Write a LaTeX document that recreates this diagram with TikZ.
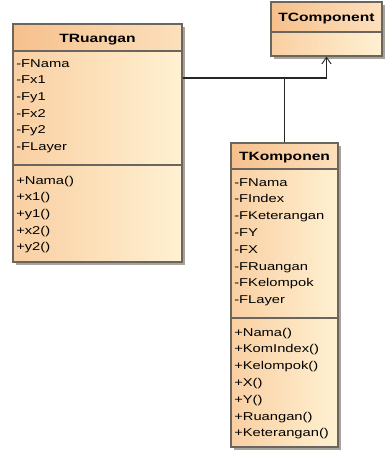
\documentclass[tikz,border=0pt]{standalone}
\usepackage{fontspec}
\setmainfont{Liberation Sans}[FakeStretch=1.3]
\usetikzlibrary{fit,arrows.meta,shadows}

\definecolor{bodyL}{HTML}{F9CFA2}
\definecolor{bodyR}{HTML}{FFF1D2}
\definecolor{headL}{HTML}{F6C08C}
\definecolor{headR}{HTML}{FCE0BD}
\definecolor{edge}{HTML}{6A655F}
\definecolor{shade}{HTML}{A8A29C}

\tikzset{
  classbox/.style={draw=edge, line width=0.8pt, inner sep=0pt, rectangle,
    left color=bodyL, right color=bodyR,
    drop shadow={shadow xshift=2pt, shadow yshift=-2pt, fill=shade, opacity=1}},
  headbox/.style={draw=edge, line width=0.8pt, inner sep=0pt, rectangle,
    left color=headL, right color=headR},
  sep/.style={draw=edge, line width=0.8pt},
  title/.style={font=\fontsize{9}{11}\selectfont\bfseries, inner sep=0pt, anchor=base},
  member/.style={font=\fontsize{8.5}{10}\selectfont, inner sep=0pt, anchor=base west},
  link/.style={draw=black!85, line width=0.8pt},
  gen/.style={link, -{Straight Barb[length=5pt, width=7pt, line width=0.7pt]}},
}

\begin{document}
\begin{tikzpicture}[x=0.75pt, y=-0.75pt]
\useasboundingbox (0,0) rectangle (388,455);

% ---- TRuangan ----
\node[classbox, fit={(13,24) (182,262)}] (rk) {};
\node[headbox, fit={(13,24) (182,51)}] (rkh) {};
\node[title] (rkt) at (97.5,42) {TRuangan};
\draw[sep] (13,165) -- (182,165);
\foreach [count=\i] \t in {-FNama,-Fx1,-Fy1,-Fx2,-Fy2,-FLayer}
  \node[member] (rka\i) at (16,{67+16.7*(\i-1)}) {\t};
\foreach [count=\i] \t in {+Nama(),+x1(),+y1(),+x2(),+y2()}
  \node[member] (rkm\i) at (16,{184+16.7*(\i-1)}) {\t};

% ---- TComponent ----
\node[classbox, fit={(271,2) (382,56)}] (tc) {};
\node[headbox, fit={(271,2) (382,32)}] (tch) {};
\node[title] (tct) at (326.5,21) {TComponent};

% ---- TKomponen ----
\node[classbox, fit={(231,143) (338,447)}] (tk) {};
\node[headbox, fit={(231,143) (338,169)}] (tkh) {};
\node[title] (tkt) at (284.5,160) {TKomponen};
\draw[sep] (231,318) -- (338,318);
\foreach [count=\i] \t in {-FNama,-FIndex,-FKeterangan,-FY,-FX,-FRuangan,-FKelompok,-FLayer}
  \node[member] (tka\i) at (234,{186+16.8*(\i-1)}) {\t};
\foreach [count=\i] \t in {+Nama(),+KomIndex(),+Kelompok(),+X(),+Y(),+Ruangan(),+Keterangan()}
  \node[member] (tkm\i) at (234,{336+16.8*(\i-1)}) {\t};

% ---- generalisation: both classes derive from TComponent ----
\coordinate (j) at (284.5,78);
\draw[gen] (rk.east |- j) -| (tc.south);
\draw[link] (tk.north) -- (j);
\end{tikzpicture}
\end{document}
